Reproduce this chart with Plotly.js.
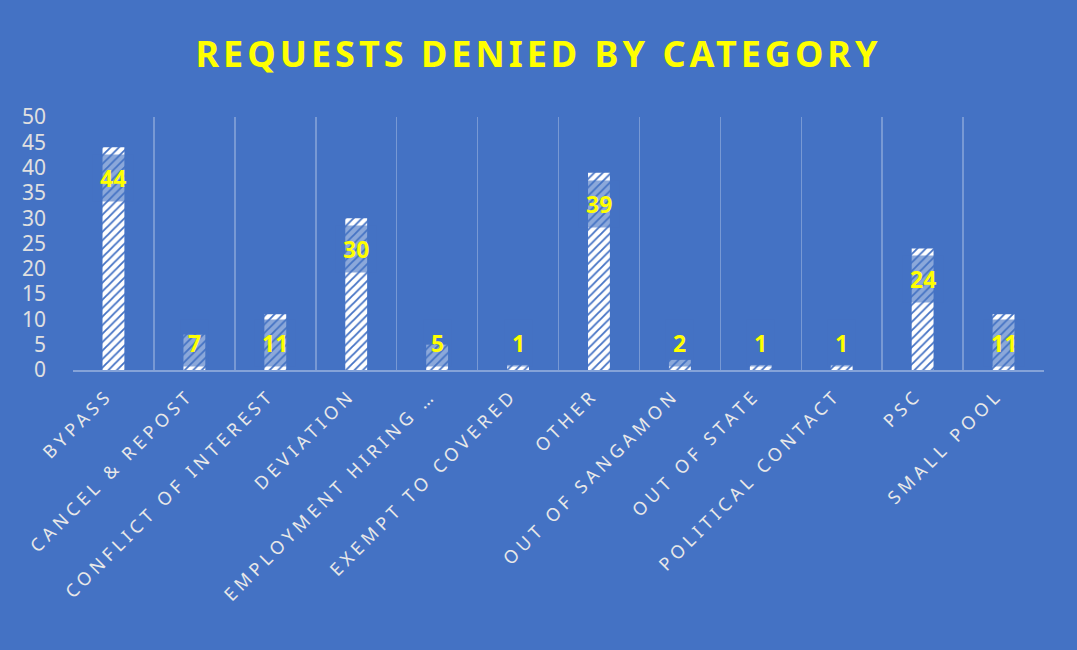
<!DOCTYPE html>
<html>
<head>
<meta charset="utf-8">
<script src="https://cdn.plot.ly/plotly-3.0.1.min.js"></script>
<style>
  html, body { margin: 0; padding: 0; background: #4472C4; }
  #chart { width: 1077px; height: 650px; }
  .xtick text { letter-spacing: 4.4px; }
  .gtitle { letter-spacing: 4px; }
</style>
</head>
<body>
<div id="chart"></div>
<script>
// request denials per category
var categories = ["BYPASS", "CANCEL & REPOST", "CONFLICT OF INTEREST", "DEVIATION",
    "EMPLOYMENT HIRING …", "EXEMPT TO COVERED", "OTHER", "OUT OF SANGAMON",
    "OUT OF STATE", "POLITICAL CONTACT", "PSC", "SMALL POOL"];
var denied = [44, 7, 11, 30, 5, 1, 39, 2, 1, 1, 24, 11];

var bg = "#4472C4";

var trace = {
    type: "bar",
    x: categories,
    y: denied,
    width: 0.27,
    marker: {
        color: "white",
        line: { width: 0 },
        pattern: { shape: "/", fgcolor: bg, bgcolor: "white", size: 6, solidity: 0.3 }
    },
    hoverinfo: "x+y"
};

// labels sit inside the top of the bar, but never lower than near the baseline
var annotations = categories.map(function (c, i) {
    return {
        x: c,
        y: Math.max(denied[i] - 6.1, 5.3),
        text: "<b>" + denied[i] + "</b>",
        showarrow: false,
        font: { family: "Noto Sans", size: 23, color: "#FFFF00" },
        bgcolor: "rgba(68,114,196,0.62)",
        borderpad: 7
    };
});

var layout = {
    width: 1077,
    height: 650,
    paper_bgcolor: bg,
    plot_bgcolor: bg,
    margin: { l: 73, r: 33, t: 117, b: 280 },
    title: {
        text: "<b>REQUESTS DENIED BY CATEGORY</b>",
        font: { family: "Noto Sans", size: 36, color: "#FFFF00" },
        x: 0.5,
        xanchor: "center",
        y: 0.917,
        yanchor: "middle"
    },
    showlegend: false,
    bargap: 0.73,
    xaxis: {
        type: "category",
        tickson: "boundaries",
        showgrid: true,
        gridcolor: "rgba(255,255,255,0.28)",
        gridwidth: 1.5,
        showline: true,
        linecolor: "rgba(255,255,255,0.35)",
        linewidth: 1.5,
        ticks: "",
        tickangle: -45,
        ticklabelstandoff: 6,
        ticklabelshift: -6,
        tickfont: { family: "Noto Sans", size: 18, color: "#E8E8E8" },
        automargin: false
    },
    yaxis: {
        range: [0, 50],
        dtick: 5,
        showgrid: false,
        zeroline: false,
        showline: false,
        ticks: "",
        ticklabelstandoff: 26,
        tickfont: { family: "Noto Sans", size: 21, color: "#E0E0E0" },
        automargin: false
    },
    annotations: annotations
};

Plotly.newPlot("chart", [trace], layout, { displayModeBar: false, staticPlot: true });
</script>
</body>
</html>
